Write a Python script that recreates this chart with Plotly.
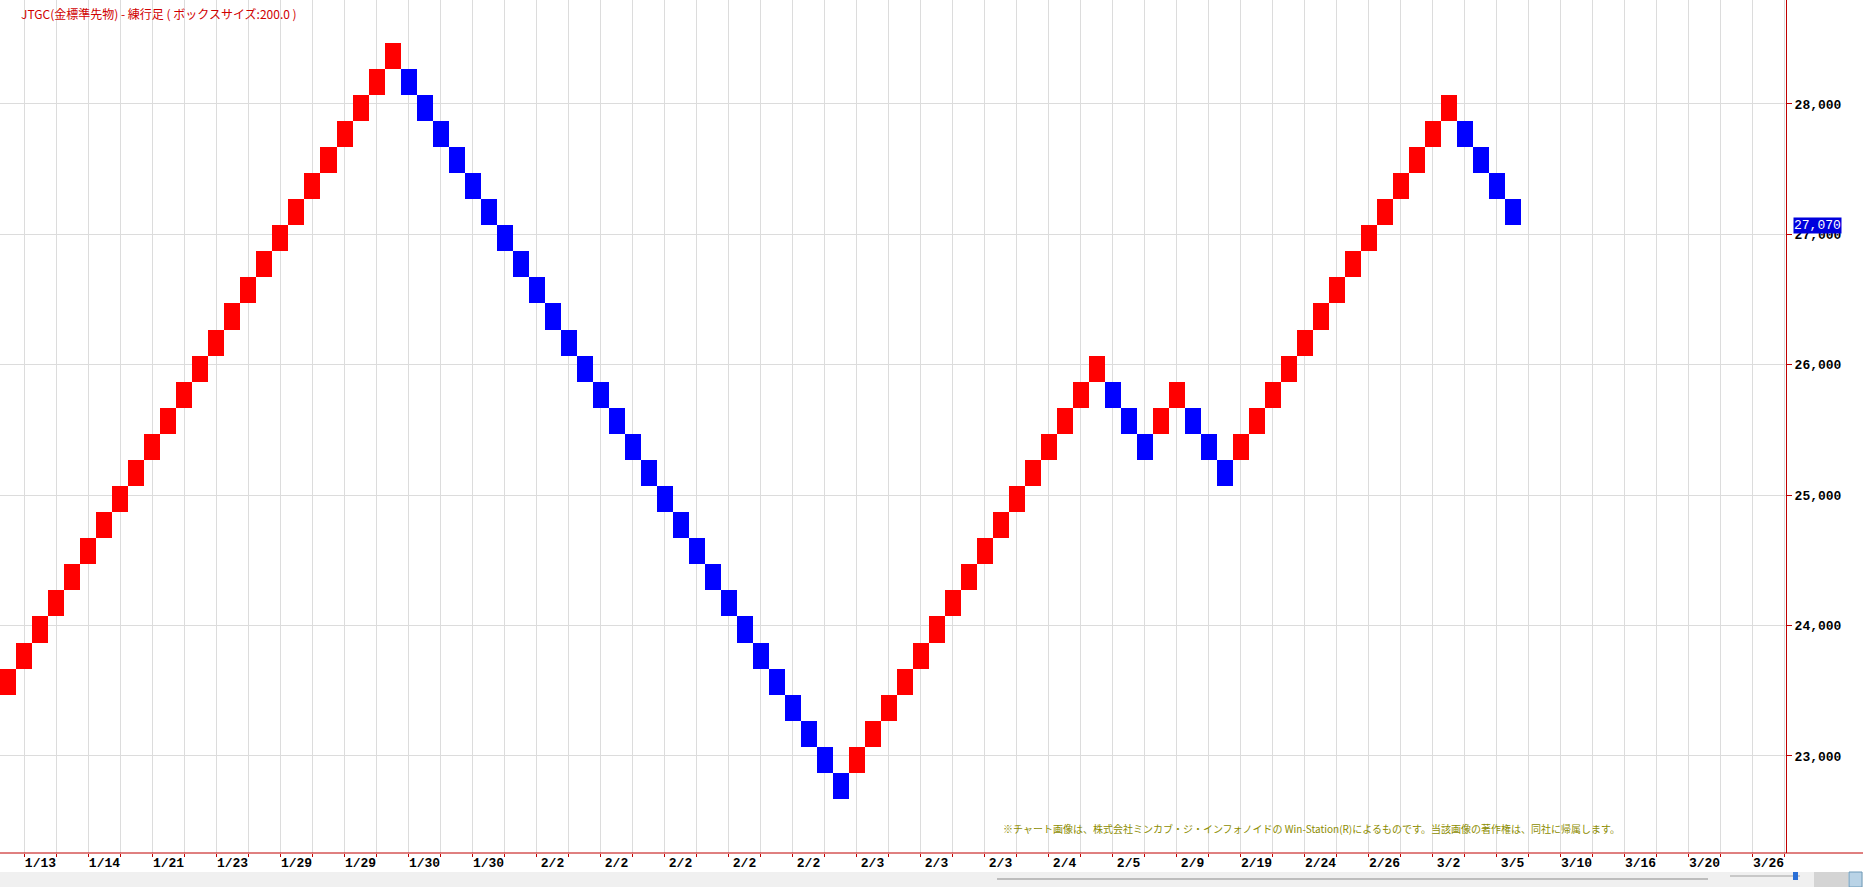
import plotly.graph_objects as go

# ---------------- data ----------------
BOX_SIZE = 200
TITLE = "JTGC(金標準先物) - 練行足 ( ボックスサイズ:200.0 )"
NOTE = "※チャート画像は、株式会社ミンカブ・ジ・インフォノイドの Win-Station(R)によるものです。当該画像の著作権は、同社に帰属します。"
LAST_PRICE = 27070

# low of each renko box, one per column
box_low = [
    # up run (cols 0-24)
    23470, 23670, 23870, 24070, 24270, 24470, 24670, 24870, 25070, 25270,
    25470, 25670, 25870, 26070, 26270, 26470, 26670, 26870, 27070, 27270,
    27470, 27670, 27870, 28070, 28270,
    # down run (cols 25-52)
    28070, 27870, 27670, 27470, 27270, 27070, 26870, 26670, 26470, 26270,
    26070, 25870, 25670, 25470, 25270, 25070, 24870, 24670, 24470, 24270,
    24070, 23870, 23670, 23470, 23270, 23070, 22870, 22670,
    # up run (cols 53-68)
    22870, 23070, 23270, 23470, 23670, 23870, 24070, 24270, 24470, 24670,
    24870, 25070, 25270, 25470, 25670, 25870,
    # down (69-71)
    25670, 25470, 25270,
    # up (72-73)
    25470, 25670,
    # down (74-76)
    25470, 25270, 25070,
    # up (77-90)
    25270, 25470, 25670, 25870, 26070, 26270, 26470, 26670, 26870, 27070,
    27270, 27470, 27670, 27870,
    # down (91-94)
    27670, 27470, 27270, 27070,
]
box_dir = (["up"] * 25 + ["down"] * 28 + ["up"] * 16 + ["down"] * 3 +
           ["up"] * 2 + ["down"] * 3 + ["up"] * 14 + ["down"] * 4)

x_labels = ["1/13", "1/14", "1/21", "1/23", "1/29", "1/29", "1/30", "1/30",
            "2/2", "2/2", "2/2", "2/2", "2/2", "2/3", "2/3", "2/3", "2/4",
            "2/5", "2/9", "2/19", "2/24", "2/26", "3/2", "3/5", "3/10",
            "3/16", "3/20", "3/26"]
y_ticks = [23000, 24000, 25000, 26000, 27000, 28000]

# ---------------- figure ----------------
W, H = 1863, 887
PLOT_R, PLOT_B = 1786, 853

cols = list(range(len(box_low)))
up_x = [c for c in cols if box_dir[c] == "up"]
dn_x = [c for c in cols if box_dir[c] == "down"]

fig = go.Figure()
fig.add_trace(go.Bar(x=up_x, base=[box_low[c] for c in up_x],
                     y=[BOX_SIZE] * len(up_x), width=1.0,
                     marker=dict(color="#ff0000", line=dict(width=0)),
                     showlegend=False))
fig.add_trace(go.Bar(x=dn_x, base=[box_low[c] for c in dn_x],
                     y=[BOX_SIZE] * len(dn_x), width=1.0,
                     marker=dict(color="#0000ff", line=dict(width=0)),
                     showlegend=False))

label_cols = [2 + 4 * k for k in range(len(x_labels))]
grid_cols = list(range(1, 112, 2))

AXIS_RED = "#c00000"
GRID = "#dcdcdc"
tick_font = dict(family="Liberation Mono", size=13, color="#000000", weight="bold")

fig.update_layout(
    width=W, height=H,
    margin=dict(l=0, r=W - PLOT_R, t=0, b=H - PLOT_B),
    paper_bgcolor="white", plot_bgcolor="white",
    barmode="overlay",
    xaxis=dict(
        range=[-0.53, 111.09], showgrid=False, zeroline=False,
        tickmode="array", tickvals=label_cols, ticktext=x_labels,
        ticks="", tickfont=tick_font, showline=False,
        minor=dict(tickmode="array", tickvals=grid_cols, showgrid=True,
                   gridcolor=GRID, gridwidth=1, ticks="outside", ticklen=3,
                   tickcolor=AXIS_RED),
    ),
    yaxis=dict(
        range=[22256, 28797], side="right", showgrid=True, gridcolor=GRID,
        gridwidth=1, zeroline=False, tickmode="array", tickvals=y_ticks,
        ticktext=[f"{v:,}" for v in y_ticks], ticks="outside", ticklen=5,
        tickcolor=AXIS_RED, tickfont=tick_font, showline=True,
        linecolor=AXIS_RED, linewidth=1,
    ),
    bargap=0,
)

xr = W / PLOT_R
def py(px):
    return (PLOT_B - px) / PLOT_B

shapes = [
    # bottom axis line extending across full width
    dict(type="line", xref="paper", yref="paper", x0=0, x1=xr, y0=0, y1=0,
         line=dict(color=AXIS_RED, width=1), layer="above"),
    # grey status band
    dict(type="rect", xref="paper", yref="paper", x0=0, x1=xr,
         y0=py(887), y1=py(872), fillcolor="#f0f0f0", line=dict(width=0)),
    # scroll line
    dict(type="line", xref="paper", yref="paper", x0=997 / PLOT_R, x1=1708 / PLOT_R,
         y0=py(879), y1=py(879), line=dict(color="#8a8a8a", width=1)),
    # slider track
    dict(type="line", xref="paper", yref="paper", x0=1730 / PLOT_R, x1=1800 / PLOT_R,
         y0=py(876), y1=py(876), line=dict(color="#c8c8c8", width=2)),
    dict(type="rect", xref="paper", yref="paper", x0=1793 / PLOT_R, x1=1798 / PLOT_R,
         y0=py(880), y1=py(872), fillcolor="#2a6fd6", line=dict(width=0)),
    # buttons
    dict(type="rect", xref="paper", yref="paper", x0=1814 / PLOT_R, x1=1848 / PLOT_R,
         y0=py(887), y1=py(872), fillcolor="#d4d4d4", line=dict(width=0)),
    dict(type="rect", xref="paper", yref="paper", x0=1849 / PLOT_R, x1=1862 / PLOT_R,
         y0=py(887), y1=py(872), fillcolor="#b9d3e6", line=dict(color="#6e9ab8", width=1)),
]
fig.update_layout(shapes=shapes)

fig.add_annotation(text=TITLE, xref="paper", yref="paper", x=19 / PLOT_R, y=1,
                   xanchor="left", yanchor="top", yshift=-3, showarrow=False,
                   font=dict(family="Noto Sans CJK JP", size=12, color="#d00000"))
fig.add_annotation(text=NOTE, xref="paper", yref="paper", x=1001 / PLOT_R, y=py(828),
                   xanchor="left", yanchor="middle", showarrow=False,
                   font=dict(family="Noto Sans CJK JP", size=10, color="#8c8c00"))
fig.add_annotation(text=f"{LAST_PRICE:,}", xref="paper", yref="y", x=1, y=LAST_PRICE,
                   xanchor="left", yanchor="middle", xshift=7, showarrow=False,
                   bgcolor="#0000dd", borderpad=0,
                   font=dict(family="Liberation Mono", size=13, color="white"))

fig.write_html("out.html", config={"displayModeBar": False},
               post_script="document.body.style.margin='0';")
